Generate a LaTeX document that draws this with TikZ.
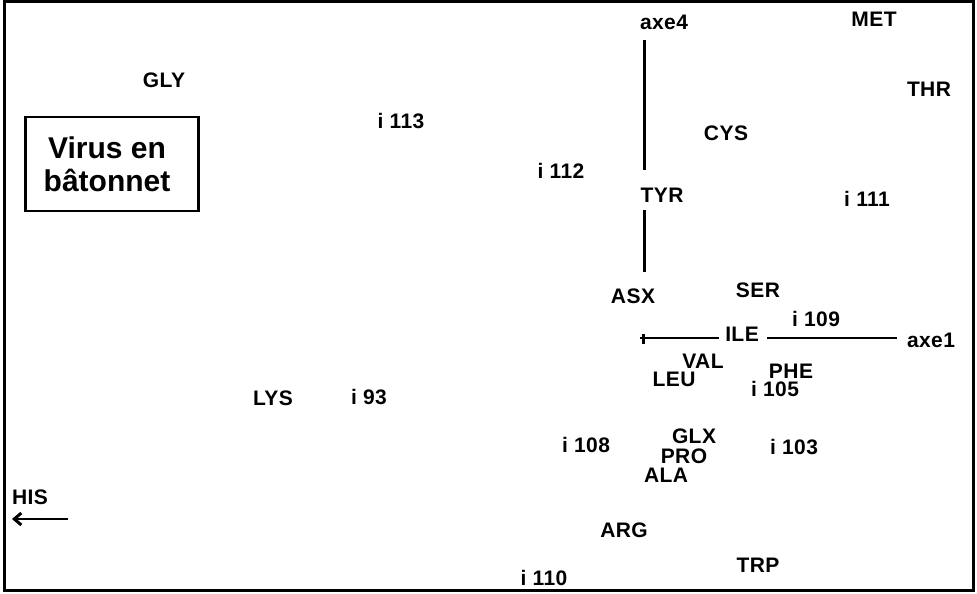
\documentclass[tikz,border=0pt]{standalone}
\usepackage{fontspec}
\setmainfont{Liberation Sans}
\usetikzlibrary{arrows.meta}
\begin{document}
\begin{tikzpicture}[x=1pt,y=-1pt,
  lab/.style={inner sep=0pt,anchor=center,font=\fontsize{21}{23}\selectfont\bfseries\addfontfeature{LetterSpace=2}},
  ax/.style={line width=3pt},
  frame/.style={line width=3pt}]
\useasboundingbox (0,0) rectangle (977,594);
\draw[frame] (4,2) rectangle (973,590);
% title box
\node[draw,line width=2.6pt,minimum width=173pt,minimum height=94pt,inner sep=0pt] (box) at (112,164) {};
\node[inner sep=0pt,font=\fontsize{30}{33}\selectfont\bfseries,align=center] (title) at (107,164.5) {Virus en\\bâtonnet};
% labels
\node[lab] (GLY) at (164,80) {GLY};
\node[lab] (i113) at (401,121) {i 113};
\node[lab] (i112) at (561,171) {i 112};
\node[lab] (axe4) at (664,22) {axe4};
\node[lab] (MET) at (874,19) {MET};
\node[lab] (THR) at (929,89) {THR};
\node[lab] (CYS) at (726,133) {CYS};
\node[lab] (TYR) at (662,195) {TYR};
\node[lab] (i111) at (867,199) {i 111};
\node[lab] (ASX) at (633,296) {ASX};
\node[lab] (SER) at (758,290) {SER};
\node[lab] (i109) at (816,319) {i 109};
\node[lab] (ILE) at (742,334) {ILE};
\node[lab] (axe1) at (931,340) {axe1};
\node[lab] (VAL) at (703,361) {VAL};
\node[lab] (LEU) at (674,379) {LEU};
\node[lab] (PHE) at (791,371) {PHE};
\node[lab] (i105) at (775,389) {i 105};
\node[lab] (LYS) at (273,398) {LYS};
\node[lab] (i93) at (369,397) {i 93};
\node[lab] (GLX) at (694,436) {GLX};
\node[lab] (PRO) at (684,456) {PRO};
\node[lab] (ALA) at (666,475) {ALA};
\node[lab] (i108) at (586,445) {i 108};
\node[lab] (i103) at (794,447) {i 103};
\node[lab] (ARG) at (624,530) {ARG};
\node[lab] (TRP) at (758,565) {TRP};
\node[lab] (i110) at (544,578) {i 110};
\node[lab] (HIS) at (30,497) {HIS};
% axes
\coordinate (o) at (640,338);
\coordinate (v1a) at (644,40);
\coordinate (v1b) at (644,170);
\coordinate (v2a) at (644,210);
\coordinate (v2b) at (644,272);
\coordinate (h1b) at (719,338);
\coordinate (h2a) at (767,338);
\coordinate (h2b) at (897,338);
\draw[ax] (v1a) -- (v1b);
\draw[ax] (v2a) -- (v2b);
\draw[line width=2.6pt] (o) -- (h1b);
\draw[line width=2.6pt] (h2a) -- (h2b);
\draw[line width=3pt] (643,333.5) -- (643,343.5);
% HIS arrow
\coordinate (hisA) at (68,519);
\coordinate (hisB) at (12,519);
\draw[line width=2.6pt,-{Straight Barb[length=7pt,width=12pt,line width=3pt]}] (hisA) -- (hisB);
\end{tikzpicture}
\end{document}
